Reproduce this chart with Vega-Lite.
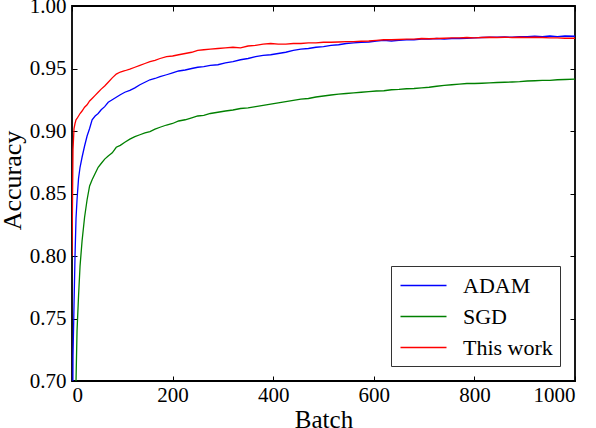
{
  "$schema": "https://vega.github.io/schema/vega-lite/v6.json",
  "width": 503,
  "height": 375,
  "autosize": "none",
  "padding": {"left": 72, "top": 6, "right": 21, "bottom": 47},
  "data": {
    "values": [
      {"b": 0, "ADAM": 0.55, "SGD": 0.45, "This work": 0.80},
      {"b": 2, "ADAM": 0.72, "SGD": 0.55, "This work": 0.885},
      {"b": 4, "ADAM": 0.76, "SGD": 0.62, "This work": 0.902},
      {"b": 6, "ADAM": 0.80, "SGD": 0.67, "This work": 0.906},
      {"b": 8, "ADAM": 0.83, "SGD": 0.70, "This work": 0.909},
      {"b": 10, "ADAM": 0.845, "SGD": 0.74, "This work": 0.910},
      {"b": 13, "ADAM": 0.862, "SGD": 0.768, "This work": 0.912},
      {"b": 16, "ADAM": 0.871, "SGD": 0.792, "This work": 0.914},
      {"b": 20, "ADAM": 0.879, "SGD": 0.812, "This work": 0.916},
      {"b": 25, "ADAM": 0.888, "SGD": 0.831, "This work": 0.919},
      {"b": 30, "ADAM": 0.896, "SGD": 0.845, "This work": 0.921},
      {"b": 35, "ADAM": 0.902, "SGD": 0.856, "This work": 0.924},
      {"b": 40, "ADAM": 0.909, "SGD": 0.861, "This work": 0.926},
      {"b": 46, "ADAM": 0.912, "SGD": 0.866, "This work": 0.9285},
      {"b": 52, "ADAM": 0.914, "SGD": 0.871, "This work": 0.931},
      {"b": 58, "ADAM": 0.917, "SGD": 0.874, "This work": 0.9335},
      {"b": 65, "ADAM": 0.9195, "SGD": 0.8775, "This work": 0.936},
      {"b": 72, "ADAM": 0.923, "SGD": 0.880, "This work": 0.939},
      {"b": 80, "ADAM": 0.925, "SGD": 0.8825, "This work": 0.9425},
      {"b": 88, "ADAM": 0.927, "SGD": 0.887, "This work": 0.9455},
      {"b": 96, "ADAM": 0.929, "SGD": 0.8885, "This work": 0.9472},
      {"b": 105, "ADAM": 0.931, "SGD": 0.891, "This work": 0.9482},
      {"b": 115, "ADAM": 0.9325, "SGD": 0.8935, "This work": 0.9495},
      {"b": 125, "ADAM": 0.9345, "SGD": 0.8955, "This work": 0.951},
      {"b": 135, "ADAM": 0.937, "SGD": 0.897, "This work": 0.9525},
      {"b": 145, "ADAM": 0.939, "SGD": 0.8985, "This work": 0.954},
      {"b": 155, "ADAM": 0.941, "SGD": 0.8995, "This work": 0.9555},
      {"b": 165, "ADAM": 0.942, "SGD": 0.9015, "This work": 0.9565},
      {"b": 175, "ADAM": 0.9435, "SGD": 0.903, "This work": 0.958},
      {"b": 188, "ADAM": 0.945, "SGD": 0.9048, "This work": 0.9595},
      {"b": 200, "ADAM": 0.9465, "SGD": 0.906, "This work": 0.960},
      {"b": 212, "ADAM": 0.948, "SGD": 0.908, "This work": 0.961},
      {"b": 225, "ADAM": 0.9488, "SGD": 0.909, "This work": 0.962},
      {"b": 238, "ADAM": 0.950, "SGD": 0.9105, "This work": 0.963},
      {"b": 250, "ADAM": 0.951, "SGD": 0.912, "This work": 0.9645},
      {"b": 262, "ADAM": 0.9515, "SGD": 0.9125, "This work": 0.965},
      {"b": 275, "ADAM": 0.9525, "SGD": 0.914, "This work": 0.9655},
      {"b": 290, "ADAM": 0.953, "SGD": 0.915, "This work": 0.966},
      {"b": 305, "ADAM": 0.9545, "SGD": 0.916, "This work": 0.9665},
      {"b": 320, "ADAM": 0.9555, "SGD": 0.9168, "This work": 0.967},
      {"b": 335, "ADAM": 0.957, "SGD": 0.918, "This work": 0.9665},
      {"b": 350, "ADAM": 0.958, "SGD": 0.9185, "This work": 0.968},
      {"b": 365, "ADAM": 0.9595, "SGD": 0.9195, "This work": 0.9685},
      {"b": 380, "ADAM": 0.9605, "SGD": 0.9205, "This work": 0.9695},
      {"b": 395, "ADAM": 0.961, "SGD": 0.9215, "This work": 0.970},
      {"b": 410, "ADAM": 0.962, "SGD": 0.9225, "This work": 0.9695},
      {"b": 425, "ADAM": 0.963, "SGD": 0.9235, "This work": 0.9695},
      {"b": 440, "ADAM": 0.9645, "SGD": 0.9245, "This work": 0.970},
      {"b": 455, "ADAM": 0.9655, "SGD": 0.9255, "This work": 0.970},
      {"b": 470, "ADAM": 0.966, "SGD": 0.926, "This work": 0.9705},
      {"b": 485, "ADAM": 0.967, "SGD": 0.9272, "This work": 0.9705},
      {"b": 500, "ADAM": 0.9675, "SGD": 0.928, "This work": 0.971},
      {"b": 515, "ADAM": 0.9685, "SGD": 0.9288, "This work": 0.971},
      {"b": 530, "ADAM": 0.969, "SGD": 0.9295, "This work": 0.9712},
      {"b": 545, "ADAM": 0.970, "SGD": 0.930, "This work": 0.9715},
      {"b": 560, "ADAM": 0.9705, "SGD": 0.9305, "This work": 0.9715},
      {"b": 575, "ADAM": 0.971, "SGD": 0.931, "This work": 0.9718},
      {"b": 590, "ADAM": 0.9712, "SGD": 0.9315, "This work": 0.972},
      {"b": 605, "ADAM": 0.972, "SGD": 0.932, "This work": 0.9725},
      {"b": 620, "ADAM": 0.9725, "SGD": 0.9322, "This work": 0.973},
      {"b": 635, "ADAM": 0.972, "SGD": 0.933, "This work": 0.973},
      {"b": 650, "ADAM": 0.9725, "SGD": 0.9333, "This work": 0.9732},
      {"b": 665, "ADAM": 0.973, "SGD": 0.9338, "This work": 0.9735},
      {"b": 680, "ADAM": 0.973, "SGD": 0.934, "This work": 0.9735},
      {"b": 695, "ADAM": 0.9735, "SGD": 0.9345, "This work": 0.974},
      {"b": 710, "ADAM": 0.9735, "SGD": 0.935, "This work": 0.9738},
      {"b": 725, "ADAM": 0.974, "SGD": 0.9358, "This work": 0.974},
      {"b": 740, "ADAM": 0.9735, "SGD": 0.9365, "This work": 0.9742},
      {"b": 755, "ADAM": 0.974, "SGD": 0.937, "This work": 0.9745},
      {"b": 770, "ADAM": 0.974, "SGD": 0.9375, "This work": 0.9745},
      {"b": 785, "ADAM": 0.9742, "SGD": 0.938, "This work": 0.9748},
      {"b": 800, "ADAM": 0.9745, "SGD": 0.938, "This work": 0.9745},
      {"b": 815, "ADAM": 0.9748, "SGD": 0.9382, "This work": 0.9748},
      {"b": 830, "ADAM": 0.975, "SGD": 0.9385, "This work": 0.975},
      {"b": 845, "ADAM": 0.975, "SGD": 0.9388, "This work": 0.9748},
      {"b": 860, "ADAM": 0.9752, "SGD": 0.939, "This work": 0.975},
      {"b": 875, "ADAM": 0.975, "SGD": 0.9392, "This work": 0.9748},
      {"b": 890, "ADAM": 0.9755, "SGD": 0.9395, "This work": 0.975},
      {"b": 905, "ADAM": 0.9755, "SGD": 0.940, "This work": 0.9748},
      {"b": 920, "ADAM": 0.9758, "SGD": 0.9402, "This work": 0.975},
      {"b": 935, "ADAM": 0.9755, "SGD": 0.9405, "This work": 0.9748},
      {"b": 950, "ADAM": 0.976, "SGD": 0.9405, "This work": 0.9745},
      {"b": 965, "ADAM": 0.9755, "SGD": 0.941, "This work": 0.9745},
      {"b": 980, "ADAM": 0.976, "SGD": 0.9412, "This work": 0.9742},
      {"b": 1000, "ADAM": 0.9758, "SGD": 0.9415, "This work": 0.9742}
    ]
  },
  "transform": [
    {"fold": ["ADAM", "SGD", "This work"], "as": ["method", "acc"]}
  ],
  "layer": [
    {
      "mark": {"type": "line", "clip": true, "strokeWidth": 1.3},
      "encoding": {
        "x": {
          "field": "b", "type": "quantitative",
          "scale": {"domain": [0, 1000], "nice": false},
          "axis": {"values": [0, 200, 400, 600, 800, 1000], "format": "d", "title": "Batch", "titlePadding": 2, "labelPadding": 8}
        },
        "y": {
          "field": "acc", "type": "quantitative",
          "scale": {"domain": [0.7, 1.0], "nice": false, "zero": false},
          "axis": {
            "values": [0.7, 0.75, 0.8, 0.85, 0.9, 0.95, 1.0], "format": ".2f", "labelPadding": 11,
            "title": "Accuracy", "titleFontSize": 26, "titleX": -52, "titleY": 174, "titleBaseline": "alphabetic"
          }
        },
        "color": {
          "field": "method", "type": "nominal",
          "scale": {"domain": ["ADAM", "SGD", "This work"], "range": ["#0000ff", "#008000", "#ff0000"]},
          "legend": {
            "orient": "none", "legendX": 319, "legendY": 260, "title": null,
            "direction": "vertical"
          }
        }
      }
    },
    {
      "mark": {"type": "point", "opacity": 0},
      "encoding": {
        "x": {
          "field": "b", "type": "quantitative",
          "axis": {"orient": "top", "values": [0, 200, 400, 600, 800, 1000], "labels": false, "title": null}
        },
        "y": {
          "field": "acc", "type": "quantitative",
          "axis": {"orient": "right", "values": [0.7, 0.75, 0.8, 0.85, 0.9, 0.95, 1.0], "labels": false, "title": null}
        }
      }
    }
  ],
  "resolve": {"axis": {"x": "independent", "y": "independent"}},
  "config": {
    "font": "Liberation Serif",
    "view": {"stroke": "black", "strokeWidth": 1.8},
    "axis": {
      "grid": false,
      "domain": false,
      "tickColor": "black",
      "tickSize": -5,
      "tickWidth": 1,
      "labelFont": "Liberation Serif",
      "labelFontSize": 21,
      "labelColor": "black",
      "titleFont": "Liberation Serif",
      "titleFontSize": 25,
      "titleFontWeight": "normal",
      "titleColor": "black"
    },
    "legend": {
      "fillColor": "white",
      "strokeColor": "#333333",
      "strokeWidth": 1,
      "padding": 7,
      "symbolType": "M-2,0H2",
      "symbolSize": 529,
      "symbolOffset": 13,
      "symbolStrokeWidth": 1.5,
      "labelFont": "Liberation Serif",
      "labelFontSize": 22,
      "labelColor": "black",
      "labelOffset": 27,
      "rowPadding": 7
    }
  }
}
